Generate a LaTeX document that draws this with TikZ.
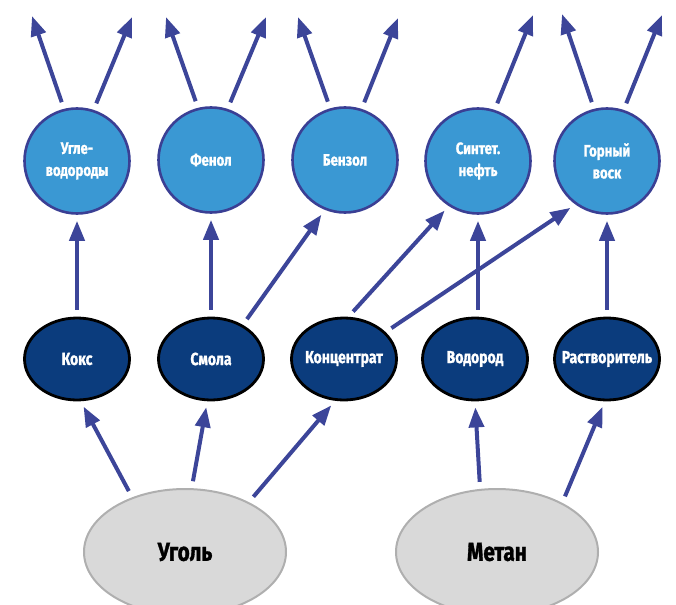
\documentclass[tikz,border=0pt]{standalone}
\usepackage{fontspec}
\newfontfamily\lblfont{Fira Sans}[FakeStretch=0.8, BoldFeatures={FakeBold=1.2}]
\usetikzlibrary{arrows.meta,shapes.geometric}
\definecolor{arrowc}{HTML}{3C4599}
\definecolor{topfill}{HTML}{3A98D3}
\definecolor{topline}{HTML}{3A3F94}
\definecolor{midfill}{HTML}{0B3C7D}
\definecolor{botfill}{HTML}{D9D9D9}
\definecolor{botline}{HTML}{AFAFAF}
\newcommand\ztext[1]{\makebox[0pt]{#1}}
\tikzset{
  topnode/.style={circle, draw=topline, line width=2.6pt, fill=topfill, minimum size=105pt,
    inner sep=0pt, text=white, align=center, font=\lblfont\bfseries\fontsize{16.5}{22}\selectfont},
  midnode/.style={ellipse, draw=black, line width=2.8pt, fill=midfill, minimum width=105pt,
    minimum height=82pt, inner sep=0pt, text=white, font=\lblfont\bfseries\fontsize{17.5}{21}\selectfont},
  botnode/.style={ellipse, draw=botline, line width=2pt, fill=botfill, minimum width=202pt,
    minimum height=126pt, inner sep=0pt, text=black, font=\lblfont\bfseries\fontsize{26}{30}\selectfont},
  arr/.style={-{Triangle[length=20pt,width=15pt]}, line width=4pt, draw=arrowc},
  gapin/.style={shorten <=7pt},
  gapboth/.style={shorten <=7pt, shorten >=6pt}
}
\begin{document}
\begin{tikzpicture}[x=1pt,y=-1pt]
\useasboundingbox (0,0) rectangle (676,604);
\clip (0,0) rectangle (676,604);
% top row
\node[topnode] (c1) at (77,161) {Угле-\\водороды};
\node[topnode] (c2) at (211,160) {Фенол};
\node[topnode] (c3) at (345,160) {Бензол};
\node[topnode] (c4) at (478,161) {Синтет.\\нефть};
\node[topnode] (c5) at (607,161) {Горный\\воск};
% middle row
\node[midnode] (m1) at (77,359) {\ztext{Кокс}};
\node[midnode] (m2) at (211,359) {\ztext{Смола}};
\node[midnode] (m3) at (344,359) {\ztext{Концентрат}};
\node[midnode] (m4) at (475,359) {\ztext{Водород}};
\node[midnode] (m5) at (607,359) {\ztext{Растворитель}};
% bottom row
\node[botnode] (b1) at (185,552) {Уголь};
\node[botnode] (b2) at (497,552) {Метан};
% free arrow tips
\coordinate (t1a) at (32,16);  \coordinate (t1b) at (132,17);
\coordinate (t2a) at (166,17); \coordinate (t2b) at (266,17);
\coordinate (t3a) at (298,17); \coordinate (t3b) at (398,18);
\coordinate (t4b) at (533,15);
\coordinate (t5a) at (562,14); \coordinate (t5b) at (662,15);
% outgoing arrows
\draw[arr,gapin] (c1.104) -- (t1a);
\draw[arr,gapin] (c1.72) -- (t1b);
\draw[arr,gapin] (c2.104) -- (t2a);
\draw[arr,gapin] (c2.72) -- (t2b);
\draw[arr,gapin] (c3.106) -- (t3a);
\draw[arr,gapin] (c3.72) -- (t3b);
\draw[arr,gapin] (c4.72) -- (t4b);
\draw[arr,gapin] (c5.104) -- (t5a);
\draw[arr,gapin] (c5.72) -- (t5b);
% middle to top
\draw[arr,gapboth] (m1.north) -- (c1.south);
\draw[arr,gapboth] (m2.north) -- (c2.south);
\draw[arr,gapboth] (m2.47) -- (c3.248);
\draw[arr,gapboth] (m3.84) -- (c4.237);
\draw[arr,gapboth] (m3.33) -- (c5.234);
\draw[arr,gapboth] (c4.south |- m4.north) -- (c4.south);
\draw[arr,gapboth] (m5.north) -- (c5.south);
% bottom to middle
\draw[arr,gapboth] (b1.134) -- (m1.275);
\draw[arr,gapboth] (b1.84) -- (m2.265);
\draw[arr,gapboth] (b1.38) -- (m3.258);
\draw[arr,gapboth] (b2.105) -- (m4.270);
\draw[arr,gapboth] (b2.37) -- (m5.267);
\end{tikzpicture}
\end{document}
